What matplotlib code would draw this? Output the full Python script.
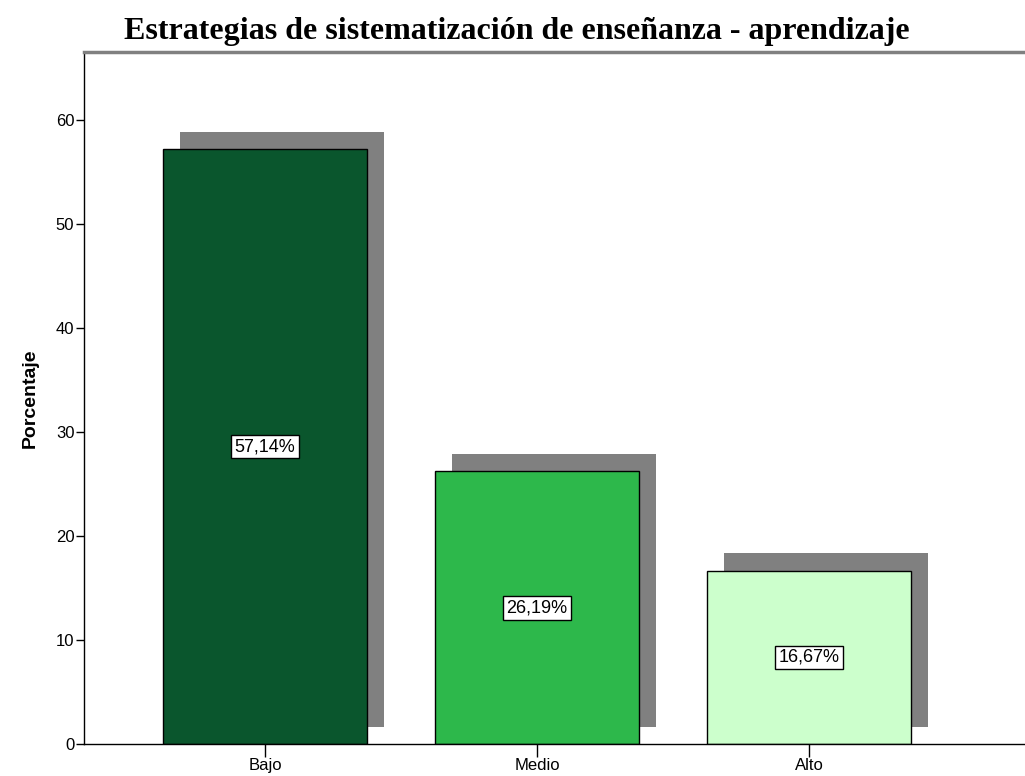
import matplotlib
matplotlib.use("Agg")
import matplotlib.pyplot as plt

# data
categorias = ['Bajo', 'Medio', 'Alto']
porcentajes = [57.14, 26.19, 16.67]
etiquetas = ['57,14%', '26,19%', '16,67%']
colores = ['#0a562d', '#2db84b', '#ccffcc']

fig = plt.figure(figsize=(10.25, 7.76), dpi=100)
ax = fig.add_axes([0.082, 0.0412, 0.918, 0.8918])

x = list(range(len(categorias)))
ancho = 0.75
dx = 0.064   # shadow offset (x)
dy = 1.65    # shadow offset (y)

# shadows first
ax.bar([i + dx for i in x], [p for p in porcentajes], width=ancho,
       bottom=dy, color='#808080', edgecolor='none', zorder=1)
ax.bar(x, porcentajes, width=ancho, color=colores, edgecolor='black',
       linewidth=1, zorder=2)

for i, p in enumerate(porcentajes):
    ax.text(i, p / 2, etiquetas[i], ha='center', va='center', fontsize=13,
            family='Liberation Sans', zorder=3,
            bbox=dict(boxstyle='square,pad=0.18', facecolor='white',
                      edgecolor='black', linewidth=1))

ax.set_xlim(-0.665, 2.794)
ax.set_ylim(0, 66.5)
ax.set_yticks([0, 10, 20, 30, 40, 50, 60])
ax.set_xticks(x)
ax.set_xticklabels(categorias)
for lbl in ax.get_xticklabels() + ax.get_yticklabels():
    lbl.set_family('Liberation Sans')
    lbl.set_fontsize(12)
ax.tick_params(axis='y', length=6, width=1, pad=1)
ax.tick_params(axis='x', length=9, width=1, pad=1)

ax.spines['right'].set_visible(False)
ax.spines['top'].set_color('#808080')
ax.spines['top'].set_linewidth(2.5)
ax.spines['left'].set_linewidth(1)
ax.spines['bottom'].set_linewidth(1)

ax.set_ylabel('Porcentaje', fontsize=14, fontweight='bold',
              family='Liberation Sans', labelpad=12)
fig.text(0.504, 0.96, 'Estrategias de sistematización de enseñanza - aprendizaje',
         ha='center', va='center', fontsize=23, fontweight='bold',
         family='Liberation Serif')

fig.savefig('out.png', dpi=100)
